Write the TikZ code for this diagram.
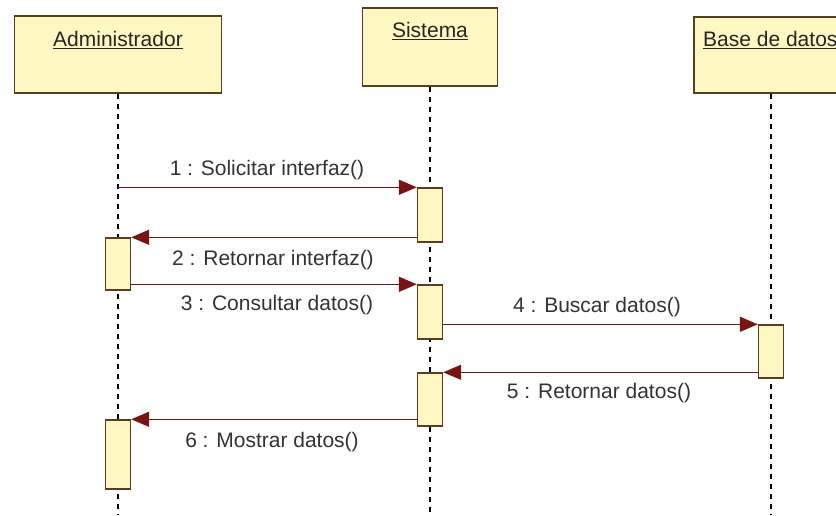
\documentclass[tikz,border=0pt]{standalone}
\usepackage{fontspec}
\setmainfont{Liberation Sans}
\usetikzlibrary{arrows.meta}
\definecolor{boxfill}{HTML}{FFF8C2}
\definecolor{boxline}{HTML}{5A3C1E}
\definecolor{msgred}{HTML}{7A1414}
\begin{document}
\begin{tikzpicture}[x=1pt,y=-1pt,
  objbox/.style={draw=boxline,fill=boxfill,line width=1.6pt,minimum height=77pt,inner sep=0pt},
  actbox/.style={draw=boxline,fill=boxfill,line width=1.4pt,minimum width=25pt,inner sep=0pt},
  title/.style={font=\fontsize{21}{24}\selectfont,text=black!85,inner sep=0pt},
  lbl/.style={font=\fontsize{21}{24}\selectfont,text=black!80,inner sep=0pt},
  lifeline/.style={draw=black,line width=1.2pt,dash pattern=on 5pt off 5pt},
  msg/.style={draw=msgred,line width=1.5pt,-{Triangle[length=18pt,width=15pt]}}]
\useasboundingbox (0,0) rectangle (836,515);
\fill[white] (0,0) rectangle (836,515);
\clip (0,0) rectangle (836,515);
% object boxes
\node[objbox,minimum width=207pt] (admin) at (118,54.5) {};
\node[objbox,minimum width=135pt,minimum height=78pt] (sis) at (430,47) {};
\node[objbox,minimum width=154pt,minimum height=76pt] (db) at (771,55) {};
\node[title,anchor=center] (tadmin) at (118,40) {\underline{Administrador}};
\node[title,anchor=center] (tsis) at (430,31) {\underline{Sistema}};
\node[title,anchor=west] (tdb) at (703,40) {\underline{Base de datos}};
% lifelines
\coordinate (eadmin) at (118,515);
\coordinate (esis) at (430,515);
\coordinate (edb) at (771,515);
\draw[lifeline] (admin.south) -- (eadmin);
\draw[lifeline] (sis.south) -- (esis);
\draw[lifeline] (db.south) -- (edb);
% activations
\node[actbox,minimum height=54pt] (s1) at (430,215) {};
\node[actbox,minimum height=52pt] (a1) at (118,264) {};
\node[actbox,minimum height=54pt] (s2) at (430,312) {};
\node[actbox,minimum height=53pt] (d1) at (771,351.5) {};
\node[actbox,minimum height=53pt] (s3) at (430,399.5) {};
\node[actbox,minimum height=69pt] (a2) at (118,454.5) {};
% messages
\draw[msg] (admin.south |- s1.north west) -- (s1.north west);
\draw[msg] (s1.west |- a1.north east) -- (a1.north east);
\draw[msg] (a1.east |- s2.north west) -- (s2.north west);
\draw[msg] (s2.east |- d1.north west) -- (d1.north west);
\draw[msg] (d1.west |- s3.north east) -- (s3.north east);
\draw[msg] (s3.west |- a2.north east) -- (a2.north east);
% labels
\node[lbl] (l1) at (267,170) {1 : Solicitar interfaz()};
\node[lbl] (l2) at (273,260) {2 : Retornar interfaz()};
\node[lbl] (l3) at (277,305) {3 : Consultar datos()};
\node[lbl] (l4) at (597,307) {4 : Buscar datos()};
\node[lbl] (l5) at (599,393) {5 : Retornar datos()};
\node[lbl] (l6) at (272,442) {6 : Mostrar datos()};
\end{tikzpicture}
\end{document}
